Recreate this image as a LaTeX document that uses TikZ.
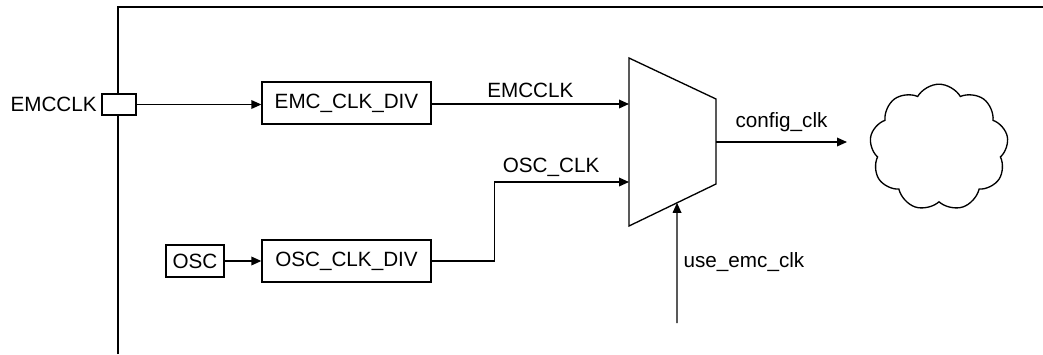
\documentclass[tikz,border=0pt]{standalone}
\usepackage{fontspec}
\setmainfont{Liberation Sans}
\usetikzlibrary{arrows.meta,positioning,calc,shapes.symbols}
\tikzset{
  blk/.style={draw,minimum width=126.75pt,minimum height=31.5pt,inner sep=0pt},
  sig/.style={-{Triangle[length=7.5pt,width=6.5pt]}},
}

\begin{document}
\begin{tikzpicture}[x=0.75pt,y=-0.75pt,line width=1pt,font=\fontsize{15.5}{18}\selectfont]
\useasboundingbox (0,0) rectangle (1043,354);
% chip edge
\draw (118,354) -- (118,7) -- (1043,7);
% pad and dividers
\node[draw,fill=white,minimum width=25.5pt,minimum height=15.75pt,inner sep=0pt] (pad) at (119,104.5) {};
\node[left=2pt of pad,inner sep=1pt] (padlbl) {EMCCLK};
\node[blk] (emcdiv) at (346.5,103) {EMC\_CLK\_DIV};
\node[blk] (oscdiv) at (346.5,261) {OSC\_CLK\_DIV};
\node[draw,minimum width=43.5pt,minimum height=24pt,inner sep=0pt] (osc) at (195,261) {OSC};
% mux
\coordinate (mux-tl) at (629,58);
\coordinate (mux-bl) at (629,226);
\coordinate (mux-tr) at (716,99);
\coordinate (mux-br) at (716,184);
\draw (mux-tl) -- (mux-tr) -- (mux-br) -- (mux-bl) -- cycle;
\coordinate (mux-a) at (629,104);
\coordinate (mux-b) at (629,182);
\coordinate (mux-sel) at ($(mux-bl)!0.552!(mux-br)$);
\coordinate (mux-out) at (716,142);
\coordinate (sel-in) at (677,323);
\coordinate (cfg-end) at (847,142);
% cloud
\node[cloud,draw,cloud puffs=9,cloud puff arc=120,aspect=1.1,minimum width=104pt,minimum height=95pt,inner sep=0pt] (logic) at (939,147.5) {};
% wires
\draw[sig] (pad.east) -- (pad.east -| emcdiv.west);
\draw[sig] (osc) -- (oscdiv);
\draw[sig] (emcdiv.east |- mux-a) -- (mux-a) node[midway,above=1pt] {EMCCLK};
\draw[sig] (oscdiv.east) -- ++(63,0) |- (mux-b) node[pos=0.71,above=0pt] {OSC\_CLK};
\draw[sig] (mux-out) -- (cfg-end) node[midway,above=4pt] {config\_clk};
\draw[sig] (sel-in) -- (mux-sel);
\node[anchor=west,inner sep=0pt] (sellbl) at (683,262) {use\_emc\_clk};
\end{tikzpicture}
\end{document}
